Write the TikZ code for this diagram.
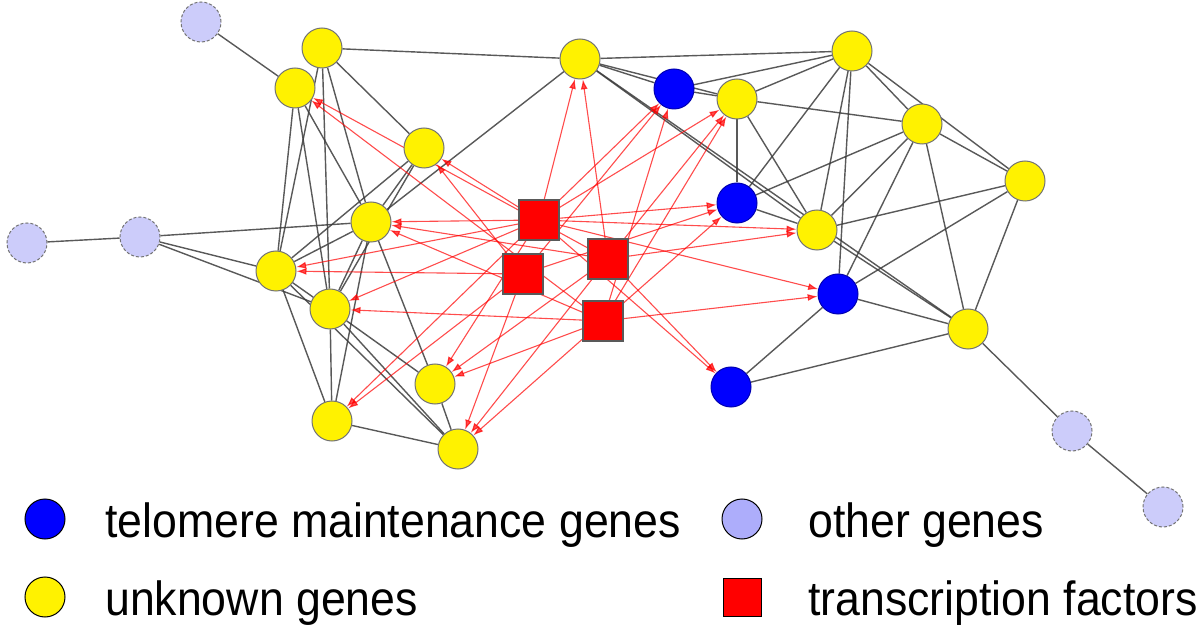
\documentclass[tikz,border=0pt]{standalone}
\usepackage{fontspec}
\usepackage{graphicx}
\setmainfont{Liberation Sans}
\usetikzlibrary{arrows.meta}
\definecolor{othercol}{RGB}{204,204,250}
\definecolor{edgecol}{RGB}{60,60,60}
\pgfdeclarelayer{bg}
\pgfsetlayers{bg,main}
\begin{document}
\begin{tikzpicture}[x=1pt,y=-1pt,
  gene/.style={circle,minimum size=40pt,inner sep=0pt,line width=1pt},
  unk/.style={gene,fill=yellow,draw=black!55},
  tel/.style={gene,fill=blue,draw=blue!70!black},
  oth/.style={gene,fill=othercol,draw=black!55,densely dashed},
  tf/.style={rectangle,minimum size=40pt,inner sep=0pt,fill=red,draw=black!65,line width=1.2pt},
  link/.style={draw=edgecol,line width=1.4pt,opacity=0.85},
  reg/.style={draw=red,line width=1.1pt,opacity=0.7,-{Latex[length=10pt,width=7pt]}},
  legcirc/.style={circle,minimum size=40pt,inner sep=0pt,draw=black,line width=1pt},
  legtext/.style={anchor=base west,font=\fontsize{48}{56}\selectfont,inner sep=0pt}
]
\useasboundingbox (0,0) rectangle (1200,628);

% other genes
\node[oth] (o1) at (201,22) {};
\node[oth] (o2) at (27,243) {};
\node[oth] (o3) at (140,237) {};
\node[oth] (o4) at (1072,431) {};
\node[oth] (o5) at (1163,507) {};
% unknown genes
\node[unk] (y1) at (322,48) {};
\node[unk] (y2) at (295,88) {};
\node[unk] (y3) at (424,148) {};
\node[unk] (y4) at (371,222) {};
\node[unk] (y5) at (276,271) {};
\node[unk] (y6) at (330,309) {};
\node[unk] (y7) at (435,384) {};
\node[unk] (y8) at (332,421) {};
\node[unk] (y9) at (458,449) {};
\node[unk] (y10) at (580,59) {};
\node[unk] (y11) at (737,99) {};
\node[unk] (y12) at (852,51) {};
\node[unk] (y13) at (922,124) {};
\node[unk] (y14) at (1025,181) {};
\node[unk] (y15) at (817,230) {};
\node[unk] (y16) at (968,329) {};
% telomere maintenance genes
\node[tel] (b1) at (674,89) {};
\node[tel] (b2) at (737,203) {};
\node[tel] (b3) at (838,294) {};
\node[tel] (b4) at (731,387) {};
% transcription factors
\node[tf] (r1) at (539,220) {};
\node[tf] (r2) at (523,274) {};
\node[tf] (r3) at (608,259) {};
\node[tf] (r4) at (603,321) {};

\begin{pgfonlayer}{bg}
\fill[white] (0,0) rectangle (1200,628);
\foreach \a/\b in {o1/y2,o2/o3,o3/y4,o3/y5,o3/y6,
  y1/y10,y1/y3,y1/y4,y1/y5,y1/y6,
  y2/y5,y2/y6,y2/y4,
  y3/y4,y3/y5,y3/y6,
  y10/y4,y10/y12,y10/b1,y10/y11,y10/y15,y10/y16,
  y4/y5,y4/y6,y4/y7,y4/y8,
  y5/y6,y5/y8,y5/y9,
  y6/y7,y6/y8,y6/y9,y7/y9,y8/y9,
  b1/y11,b1/y12,
  y11/y12,y11/y13,y11/b2,y11/y15,
  y12/b2,y12/y15,y12/b3,y12/y13,y12/y14,
  y13/y14,y13/b2,y13/y15,y13/b3,y13/y16,
  y14/y15,y14/b3,y14/y16,
  b2/y15,y15/y16,b3/y16,b3/b4,b4/y16,y16/o4,o4/o5}
  \draw[link] (\a) -- (\b);
\foreach \a/\b in {r1/y3,r1/y4,r1/y5,r1/y6,r1/y7,r1/y8,r1/y10,r1/b1,r1/y11,r1/b2,r1/y15,r1/b3,r1/b4,
  r2/y3,r2/y5,r2/y8,r2/y9,r2/b1,r2/b2,
  r3/y2,r3/y4,r3/y7,r3/y9,r3/y10,r3/y11,r3/y15,r3/b4,
  r4/y2,r4/y4,r4/y6,r4/y7,r4/y9,r4/b1,r4/y11,r4/b2,r4/b3}
  \draw[reg] (\a) -- (\b);
\end{pgfonlayer}

% legend
\node[legcirc,fill=blue] (lb) at (45,519) {};
\node[legtext] (lbt) at (105,537) {\scalebox{0.93}[1]{telomere maintenance genes}};
\node[legcirc,fill=othercol!85!blue] (lo) at (742,519) {};
\node[legtext] (lot) at (808,537) {\scalebox{0.93}[1]{other genes}};
\node[legcirc,fill=yellow] (ly) at (45,597) {};
\node[legtext] (lyt) at (105,615) {\scalebox{0.93}[1]{unknown genes}};
\node[rectangle,minimum size=38pt,inner sep=0pt,fill=red,draw=black,line width=1pt] (lr) at (742,597) {};
\node[legtext] (lrt) at (808,615) {\scalebox{0.93}[1]{transcription factors}};
\end{tikzpicture}
\end{document}
